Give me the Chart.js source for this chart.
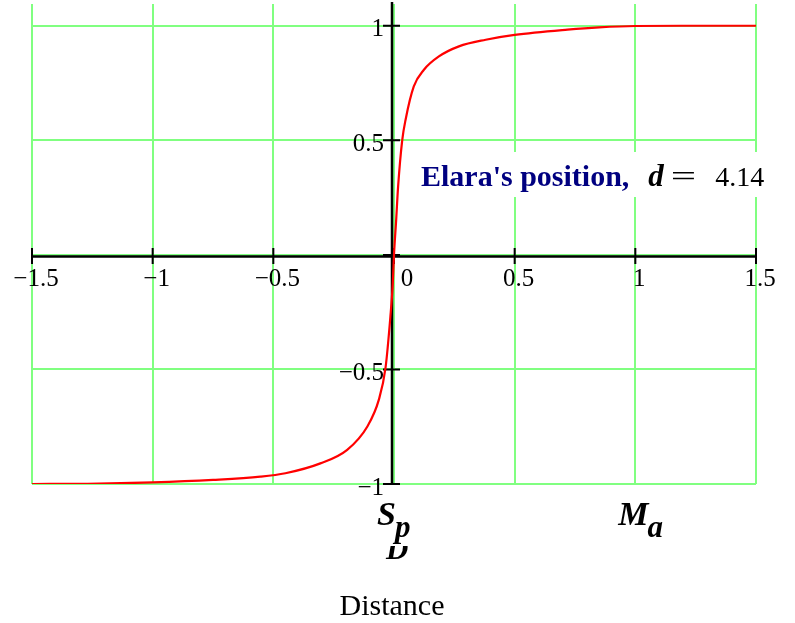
<!DOCTYPE html>
<html><head><meta charset="utf-8">
<script src="https://cdn.jsdelivr.net/npm/chart.js@4/dist/chart.umd.min.js"></script>
<style>html,body{margin:0;padding:0;background:#fff;}#wrap{width:795px;height:623px;}</style>
</head><body><div id="wrap"><canvas id="c" width="795" height="623"></canvas></div>
<script>
// ---- data ----
const xValues = [-1.5, -1.27, -1.0, -0.75, -0.554, -0.45, -0.305, -0.194, -0.111, -0.063, -0.035, -0.015, -0.005, 0.0, 0.009, 0.017, 0.034, 0.048, 0.082, 0.124, 0.186, 0.269, 0.38, 0.5, 0.719, 0.85, 1.0, 1.25, 1.5];
const yValues = [-1.0, -0.999, -0.993, -0.982, -0.968, -0.953, -0.91, -0.851, -0.75, -0.633, -0.492, -0.27, -0.124, 0.0, 0.153, 0.298, 0.5, 0.59, 0.735, 0.808, 0.866, 0.91, 0.939, 0.96, 0.983, 0.993, 0.999, 1.0, 1.0];
const xTickValues = [-1.5, -1, -0.5, 0, 0.5, 1, 1.5];
const xTickLabels = ['\u22121.5', '\u22121', '\u22120.5', '0', '0.5', '1', '1.5'];
const yTickValues = [-1, -0.5, 0, 0.5, 1];
const yTickLabels = ['\u22121', '\u22120.5', '', '0.5', '1'];
const markerValues = [0, 1];
const markerMain = ['S', 'M'];
const markerSub = ['p', 'a'];
const annotationLabel = "Elara's position,";
const annotationVar = 'd';
const annotationEq = '=';
const annotationValue = '4.14';
const xAxisTitle = 'Distance';

const points = xValues.map((x, i) => ({x: x, y: yValues[i]}));
const GRID = '#80ff80';
const SERIF = '"Liberation Serif", "Times New Roman", serif';

const overlay = {
  id: 'overlay',
  beforeDatasetsDraw(chart) {
    const ctx = chart.ctx, xs = chart.scales.x, ys = chart.scales.y, a = chart.chartArea;
    const x0 = xs.getPixelForValue(0), y0 = ys.getPixelForValue(0);
    ctx.save();
    ctx.fillStyle = '#fff';
    ctx.fillRect(413, 152, 356, 45);
    ctx.strokeStyle = '#000';
    ctx.lineWidth = 2.5;
    ctx.beginPath();
    ctx.moveTo(a.left, y0 + 1.5); ctx.lineTo(a.right, y0 + 1.5);
    ctx.moveTo(x0 - 2, a.top - 2); ctx.lineTo(x0 - 2, a.bottom + 1);
    ctx.stroke();
    ctx.lineWidth = 2;
    ctx.beginPath();
    xTickValues.forEach(v => {
      const p = xs.getPixelForValue(v);
      ctx.moveTo(p, y0 - 7); ctx.lineTo(p, y0 + 9);
    });
    yTickValues.forEach(v => {
      const p = ys.getPixelForValue(v);
      ctx.moveTo(x0 - 11, p); ctx.lineTo(x0 + 6, p);
    });
    ctx.stroke();
    ctx.restore();
  },
  afterDraw(chart) {
    const ctx = chart.ctx, xs = chart.scales.x, ys = chart.scales.y;
    const x0 = xs.getPixelForValue(0), y0 = ys.getPixelForValue(0);
    ctx.save();
    ctx.fillStyle = '#000';
    ctx.font = '25px ' + SERIF;
    ctx.textBaseline = 'middle';
    ctx.textAlign = 'center';
    xTickValues.forEach((v, i) => {
      const p = xs.getPixelForValue(v) + (v === 0 ? 13 : 4);
      ctx.fillText(xTickLabels[i], p, y0 + 25);
    });
    ctx.textAlign = 'right';
    yTickValues.forEach((v, i) => {
      if (!yTickLabels[i]) return;
      ctx.fillText(yTickLabels[i], x0 - 10, ys.getPixelForValue(v) + 4);
    });
    // annotation
    ctx.textAlign = 'left';
    ctx.textBaseline = 'alphabetic';
    let tx = 421;
    const by = 186;
    ctx.fillStyle = '#000080';
    ctx.font = 'bold 30px ' + SERIF;
    ctx.fillText(annotationLabel, tx, by);
    tx += ctx.measureText(annotationLabel).width + 19;
    ctx.fillStyle = '#000';
    ctx.font = 'bold italic 31px ' + SERIF;
    ctx.fillText(annotationVar, tx, by);
    tx += ctx.measureText(annotationVar).width + 7;
    ctx.font = '30px ' + SERIF;
    ctx.save();
    ctx.translate(tx, by);
    ctx.scale(1.5, 1);
    ctx.fillText(annotationEq, 0, 0);
    ctx.restore();
    tx += ctx.measureText(annotationEq).width * 1.5 + 19;
    ctx.font = '28px ' + SERIF;
    ctx.fillText(annotationValue, tx, by);
    // markers below the axis
    markerValues.forEach((v, i) => {
      const p = xs.getPixelForValue(v) - 17;
      ctx.font = 'bold italic 34px ' + SERIF;
      ctx.fillText(markerMain[i], p, 525);
      const w = ctx.measureText(markerMain[i]).width;
      ctx.font = 'bold italic 31px ' + SERIF;
      ctx.fillText(markerSub[i], p + w - 1, 537);
    });
    ctx.save();
    ctx.beginPath();
    ctx.rect(370, 546, 50, 20);
    ctx.clip();
    ctx.font = 'bold italic 31px ' + SERIF;
    ctx.fillText('D', x0 - 8, 559);
    ctx.restore();
    ctx.font = '30px ' + SERIF;
    ctx.textAlign = 'center';
    ctx.fillText(xAxisTitle, 392, 615);
    ctx.restore();
  }
};

new Chart(document.getElementById('c'), {
  type: 'line',
  data: {
    datasets: [{
      data: points,
      borderColor: '#ff0000',
      borderWidth: 2.2,
      pointRadius: 0,
      fill: false,
      cubicInterpolationMode: 'monotone'
    }]
  },
  options: {
    responsive: false,
    animation: false,
    events: [],
    layout: {padding: {left: 32, right: 39, top: 4, bottom: 139}},
    plugins: {legend: {display: false}, tooltip: {enabled: false}},
    scales: {
      x: {
        type: 'linear', min: -1.5, max: 1.5,
        afterBuildTicks: s => { s.ticks = xTickValues.map(v => ({value: v})); },
        ticks: {display: false},
        grid: {color: GRID, lineWidth: 2, drawTicks: false},
        border: {display: false}
      },
      y: {
        type: 'linear', min: -1, max: 1.095,
        afterBuildTicks: s => { s.ticks = yTickValues.map(v => ({value: v})); },
        ticks: {display: false},
        grid: {color: GRID, lineWidth: 2, drawTicks: false},
        border: {display: false}
      }
    }
  },
  plugins: [overlay]
});
</script>
</body></html>
